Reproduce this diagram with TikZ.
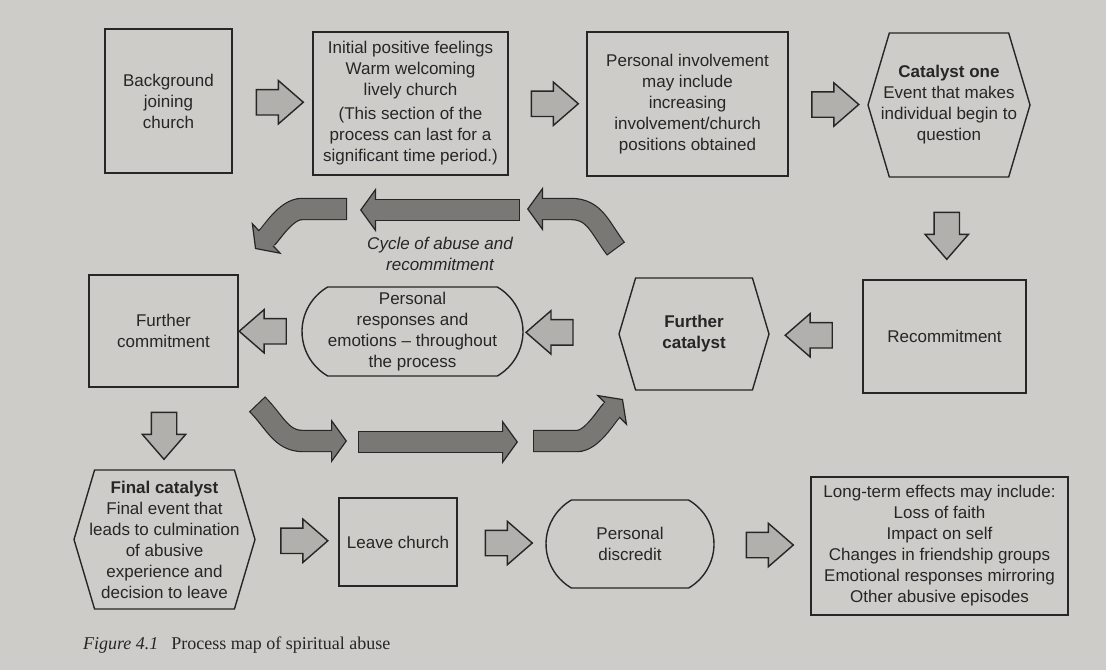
\documentclass[tikz,border=0pt]{standalone}
\usepackage{fontspec}
\setmainfont{Liberation Serif}
\setsansfont{Liberation Sans}
\usepackage{tikz}
\usetikzlibrary{shapes.geometric, shapes.symbols, shapes.misc, shapes.arrows, arrows.meta, positioning, calc}
\definecolor{paper}{RGB}{205,204,200}
\definecolor{ink}{RGB}{38,38,38}
\definecolor{arrowgray}{RGB}{178,176,172}
\definecolor{cyclegray}{RGB}{122,120,117}

\begin{document}
\begin{tikzpicture}[x=0.5pt, y=-0.5pt,
  every node/.style={font=\sffamily\fontsize{8.5}{10.5}\selectfont, text=ink, align=center},
  box/.style={draw=ink, line width=0.7pt, inner sep=2pt},
  hexbox/.style={box, signal, signal to=west and east, signal pointer angle=147},
  roundbox/.style={box, rounded rectangle, rounded rectangle arc length=120},
  blockarrow/.style={single arrow, draw=ink, fill=arrowgray, line width=0.7pt, inner sep=6pt,
    minimum height=23.5pt, minimum width=21pt, single arrow head extend=4.5pt, single arrow tip angle=82},
  cycleedge/.style={draw=ink, line width=11.2pt, -{Triangle[length=8pt, width=22pt, line width=0.6pt, fill=cyclegray]}},
  cyclefill/.style={draw=cyclegray, line width=10pt, shorten <=0.6pt, shorten >=7pt}]
\fill[paper] (0,0) rectangle (1106,670);
% Top row
\node[box, minimum width=63.5pt, minimum height=72pt] (bg) at (168.5,101) {Background\\joining\\church};
\node[box, minimum width=97.5pt, minimum height=71.5pt] (init) at (410.5,103.5)
  {Initial positive feelings\\Warm welcoming\\lively church\\[1.5pt](This section of the\\process can last for a\\significant time period.)};
\node[box, minimum width=100.5pt, minimum height=72pt] (pinv) at (687.5,104)
  {Personal involvement\\may include\\increasing\\involvement/church\\positions obtained};
\node[hexbox, inner xsep=-4.2pt, minimum width=81pt, minimum height=72pt] (cat1) at (949,105)
  {\textbf{Catalyst one}\\Event that makes\\individual begin to\\question};
% Middle row
\node[box, minimum width=81.5pt, minimum height=56.5pt] (recom) at (944.5,336.5) {Recommitment};
\node[hexbox, minimum width=75pt, minimum height=56pt] (fcat) at (694,334) {\textbf{Further}\\\textbf{catalyst}};
\node[roundbox, inner xsep=-13pt, inner ysep=0pt, minimum width=84.5pt, minimum height=44.5pt] (resp) at (412.5,331.5)
  {Personal\\responses and\\emotions -- throughout\\the process};
\node[box, minimum width=74.5pt, minimum height=56pt] (fcom) at (163.5,331) {Further\\commitment};
% Bottom row
\node[hexbox, inner xsep=-2.6pt, minimum width=90.5pt, minimum height=69.5pt] (finc) at (164.5,539.5)
  {\textbf{Final catalyst}\\Final event that\\leads to culmination\\of abusive\\experience and\\decision to leave};
\node[box, minimum width=59pt, minimum height=44pt] (leave) at (398,542) {Leave church};
\node[roundbox, minimum width=88pt, minimum height=44pt] (disc) at (630,544) {Personal\\discredit};
\node[box, minimum width=128.5pt, minimum height=69pt] (lte) at (939.5,546)
  {Long-term effects may include:\\Loss of faith\\Impact on self\\Changes in friendship groups\\Emotional responses mirroring\\Other abusive episodes};
% Block arrows
\node[blockarrow] (a1) at ($(bg.east)!0.5!(init.west)$) {};
\node[blockarrow] (a2) at ($(init.east)!0.5!(pinv.west)$) {};
\node[blockarrow] (a3) at ($(pinv.east)!0.5!(cat1.west)$) {};
\node[blockarrow, shape border rotate=270] (a4) at ($(cat1.south)!0.5!(recom.north)$) {};
\node[blockarrow, shape border rotate=180] (a5) at ($(recom.west)!0.5!(fcat.east)$) {};
\node[blockarrow, shape border rotate=180] (a6) at ($(resp.east)!0.35!(fcat.west)$) {};
\node[blockarrow, shape border rotate=180] (a7) at ($(fcom.east)!0.5!(resp.west)$) {};
\node[blockarrow, shape border rotate=270] (a8) at ($(fcom.south)!0.5!(finc.north)$) {};
\node[blockarrow] (a9) at ($(finc.east)!0.5!(leave.west)$) {};
\node[blockarrow] (a10) at ($(leave.east)!0.5!(disc.west)$) {};
\node[blockarrow] (a11) at ($(disc.east)!0.5!(lte.west)$) {};
% Cycle of abuse
\coordinate (tls) at (347,209); \coordinate (tle) at (255,249);
\coordinate (tms) at (520,210); \coordinate (tme) at (360,210);
\coordinate (trs) at (616,249); \coordinate (tre) at (527,209);
\coordinate (bls) at (257,404); \coordinate (ble) at (347,441);
\coordinate (bms) at (358,442); \coordinate (bme) at (518,442);
\coordinate (brs) at (533,441); \coordinate (bre) at (623,399);
\foreach \p in {
    {(tls) -- ++(-45,0) .. controls +(-16,0) and +(17,-16) .. (tle)},
    {(tms) -- (tme)},
    {(trs) .. controls +(-16,-21) and +(24,0) .. ($(tre)+(44,0)$) -- (tre)},
    {(bls) .. controls +(18,18) and +(-22,0) .. ($(ble)+(-44,0)$) -- (ble)},
    {(bms) -- (bme)},
    {(brs) -- ++(44,0) .. controls +(15,0) and +(-17,17) .. (bre)}
} {
    \draw[cycleedge] \p;
    \draw[cyclefill] \p;
}
\node[font=\sffamily\itshape\fontsize{8.5}{10.5}\selectfont] (cyclelbl) at (440,254) {Cycle of abuse and\\recommitment};
% Caption
\node[anchor=west, font=\rmfamily\fontsize{9}{11}\selectfont] (caption) at (76,645)
  {\textit{Figure 4.1}\hspace{6.5pt}Process map of spiritual abuse};
\end{tikzpicture}
\end{document}
